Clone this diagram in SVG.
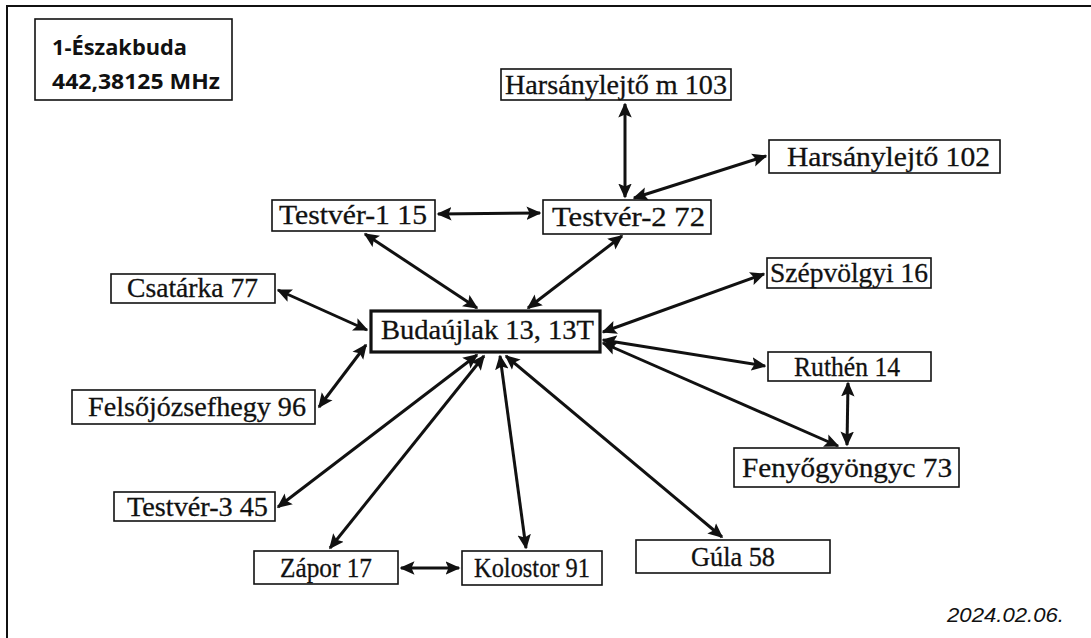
<svg xmlns="http://www.w3.org/2000/svg" width="1091" height="638" viewBox="0 0 1091 638">
<style>
.box{fill:#fff;stroke:#111;stroke-width:1.6}
.hub{fill:#fff;stroke:#111;stroke-width:3.2}
.t{font-family:"Liberation Serif",serif;font-size:28px;fill:#111;stroke:#111;stroke-width:0.3}
.title{font-family:"Open Sans","Liberation Sans",sans-serif;font-weight:bold;font-size:22px;fill:#111}
.date{font-family:"Liberation Sans",sans-serif;font-style:italic;font-size:21px;fill:#111}
.c line{stroke:#111;stroke-width:3;marker-start:url(#ah);marker-end:url(#ah)}
</style>
<defs>
<marker id="ah" viewBox="0 0 10 10" refX="9" refY="5" markerWidth="5" markerHeight="5" orient="auto-start-reverse" markerUnits="strokeWidth">
<path d="M0,0.5 L10,5 L0,9.5 L2,5 Z" fill="#111"/>
</marker>
</defs>
<rect x="0" y="0" width="1091" height="638" fill="#fff"/>
<path d="M7,700 L7,6 L1100,6" fill="none" stroke="#111" stroke-width="2"/>

<g class="c" id="connectors">
<line x1="625" y1="104" x2="625" y2="197"/>
<line x1="634" y1="198" x2="766" y2="156"/>
<line x1="438" y1="214" x2="540" y2="213"/>
<line x1="365" y1="234" x2="477" y2="308"/>
<line x1="622" y1="236" x2="528" y2="308"/>
<line x1="278" y1="290" x2="367" y2="330"/>
<line x1="319" y1="407" x2="366" y2="345"/>
<line x1="764" y1="274" x2="603" y2="332"/>
<line x1="765" y1="366" x2="603" y2="340"/>
<line x1="838" y1="446" x2="603" y2="343"/>
<line x1="848" y1="383" x2="847" y2="445"/>
<line x1="278" y1="507" x2="477" y2="355"/>
<line x1="330" y1="548" x2="484" y2="356"/>
<line x1="526" y1="548" x2="500" y2="356"/>
<line x1="722" y1="537" x2="506" y2="356"/>
<line x1="401" y1="568" x2="459" y2="568"/>
</g>

<g id="title">
<rect x="35" y="19" width="197" height="81" class="box"/>
<text x="52" y="55" class="title" textLength="135" lengthAdjust="spacingAndGlyphs">1-Északbuda</text>
<text x="52" y="89" class="title" textLength="168" lengthAdjust="spacingAndGlyphs">442,38125 MHz</text>
</g>
<g id="n103"><rect x="501" y="69" width="230" height="31" class="box"/><text x="505" y="94" class="t" textLength="222" lengthAdjust="spacingAndGlyphs">Harsánylejtő m 103</text></g>
<g id="n102"><rect x="769" y="140" width="231" height="33" class="box"/><text x="787" y="166" class="t" textLength="203" lengthAdjust="spacingAndGlyphs">Harsánylejtő 102</text></g>
<g id="n15"><rect x="272" y="200" width="163" height="31" class="box"/><text x="279" y="224" class="t" textLength="148" lengthAdjust="spacingAndGlyphs">Testvér-1 15</text></g>
<g id="n72"><rect x="543" y="200" width="168" height="34" class="box"/><text x="552" y="226" class="t" textLength="153" lengthAdjust="spacingAndGlyphs">Testvér-2 72</text></g>
<g id="n77"><rect x="111" y="274" width="164" height="29" class="box"/><text x="127" y="297" class="t" textLength="131" lengthAdjust="spacingAndGlyphs">Csatárka 77</text></g>
<g id="n13"><rect x="371" y="311" width="229" height="41" class="hub"/><text x="381" y="339" class="t" textLength="213" lengthAdjust="spacingAndGlyphs">Budaújlak 13, 13T</text></g>
<g id="n16"><rect x="767" y="258" width="164" height="30" class="box"/><text x="770" y="282" class="t" textLength="158" lengthAdjust="spacingAndGlyphs">Szépvölgyi 16</text></g>
<g id="n14"><rect x="768" y="352" width="163" height="29" class="box"/><text x="794" y="376" class="t" textLength="106" lengthAdjust="spacingAndGlyphs">Ruthén 14</text></g>
<g id="n96"><rect x="72" y="390" width="243" height="34" class="box"/><text x="88" y="416" class="t" textLength="218" lengthAdjust="spacingAndGlyphs">Felsőjózsefhegy 96</text></g>
<g id="n73"><rect x="734" y="448" width="225" height="39" class="box"/><text x="742" y="477" class="t" textLength="210" lengthAdjust="spacingAndGlyphs">Fenyőgyöngyc 73</text></g>
<g id="n45"><rect x="114" y="492" width="161" height="29" class="box"/><text x="127" y="516" class="t" textLength="141" lengthAdjust="spacingAndGlyphs">Testvér-3 45</text></g>
<g id="n17"><rect x="254" y="551" width="144" height="33" class="box"/><text x="326" y="577" class="t" text-anchor="middle" textLength="92" lengthAdjust="spacingAndGlyphs">Zápor 17</text></g>
<g id="n91"><rect x="462" y="551" width="140" height="34" class="box"/><text x="532" y="577" class="t" text-anchor="middle" textLength="116" lengthAdjust="spacingAndGlyphs">Kolostor 91</text></g>
<g id="n58"><rect x="636" y="540" width="194" height="33" class="box"/><text x="733" y="566" class="t" text-anchor="middle" textLength="84" lengthAdjust="spacingAndGlyphs">Gúla 58</text></g>
<text x="947" y="622" class="date" textLength="117" lengthAdjust="spacingAndGlyphs">2024.02.06.</text>
</svg>
